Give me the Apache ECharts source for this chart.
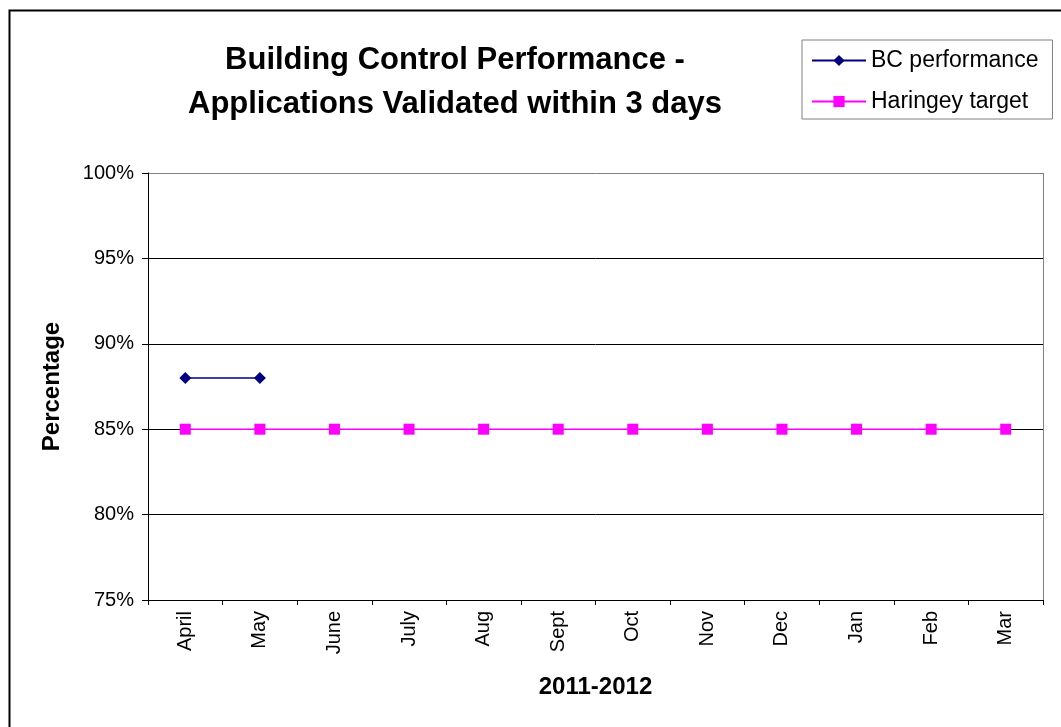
<!DOCTYPE html>
<html>
<head>
<meta charset="utf-8">
<script src="https://cdn.jsdelivr.net/npm/echarts@6/dist/echarts.min.js"></script>
<style>
html,body{margin:0;padding:0;background:#fff;}
#c{width:1061px;height:727px;}
</style>
</head>
<body>
<div id="c"></div>
<script>
const months = ['April','May','June','July','Aug','Sept','Oct','Nov','Dec','Jan','Feb','Mar'];
const bcPerformance = [0.88, 0.88, null, null, null, null, null, null, null, null, null, null];
const haringeyTarget = [0.85, 0.85, 0.85, 0.85, 0.85, 0.85, 0.85, 0.85, 0.85, 0.85, 0.85, 0.85];
const yMin = 0.75, yMax = 1.0, yStep = 0.05;

const chart = echarts.init(document.getElementById('c'), null, {renderer: 'canvas'});
const font = '"Liberation Sans", Arial, sans-serif';
chart.setOption({
  animation: false,
  backgroundColor: '#fff',
  textStyle: {fontFamily: font},
  title: {
    text: 'Building Control Performance -\nApplications Validated within 3 days',
    left: 455, top: 38, textAlign: 'center', padding: 0,
    textStyle: {fontFamily: font, fontSize: 31, fontWeight: 'bold', color: '#000', lineHeight: 44}
  },
  legend: {
    orient: 'vertical',
    left: 802, top: 40,
    padding: [9, 14, 6, 9],
    itemWidth: 54, itemHeight: 14, itemGap: 18,
    borderColor: '#808080', borderWidth: 1,
    textStyle: {fontFamily: font, fontSize: 23, color: '#000', lineHeight: 22},
    data: ['BC performance', 'Haringey target']
  },
  grid: {left: 148, right: 18, top: 173, bottom: 127, containLabel: false},
  xAxis: {
    type: 'category',
    data: months,
    boundaryGap: true,
    name: '2011-2012',
    nameLocation: 'middle',
    nameGap: 75,
    nameTextStyle: {fontFamily: font, fontSize: 24, fontWeight: 'bold', color: '#000'},
    axisLine: {lineStyle: {color: '#000', width: 1}},
    axisTick: {show: true, length: 5, inside: false, alignWithLabel: false, lineStyle: {color: '#000'}},
    axisLabel: {rotate: 90, margin: 11, fontSize: 20, color: '#000', fontFamily: font},
    splitLine: {show: false}
  },
  yAxis: {
    type: 'value',
    min: yMin, max: yMax, interval: yStep,
    name: 'Percentage',
    nameLocation: 'middle',
    nameGap: 84,
    nameRotate: 90,
    nameTextStyle: {fontFamily: font, fontSize: 24, fontWeight: 'bold', color: '#000'},
    axisLine: {show: true, lineStyle: {color: '#000', width: 1}},
    axisTick: {show: true, length: 6, lineStyle: {color: '#000'}},
    axisLabel: {margin: 14, fontSize: 20, color: '#000', fontFamily: font,
      formatter: v => Math.round(v * 100) + '%'},
    splitLine: {show: true, lineStyle: {color: ['#000','#000','#000','#000','#000','#808080'], width: 1}}
  },
  graphic: [
    {type: 'rect', left: 7, top: 8, shape: {x: 0, y: 0, width: 1100, height: 800},
     style: {fill: 'none', stroke: '#000', lineWidth: 2}, silent: true, z: -1},
    {type: 'line', shape: {x1: 1043.5, y1: 173, x2: 1043.5, y2: 600},
     style: {stroke: '#808080', lineWidth: 1}, silent: true}
  ],
  series: [
    {
      name: 'BC performance', type: 'line', data: bcPerformance,
      symbol: 'diamond', symbolSize: 12, connectNulls: false,
      lineStyle: {color: '#000080', width: 1.5},
      itemStyle: {color: '#000080'}, z: 3
    },
    {
      name: 'Haringey target', type: 'line', data: haringeyTarget,
      symbol: 'rect', symbolSize: 11,
      lineStyle: {color: '#FF00FF', width: 1.5},
      itemStyle: {color: '#FF00FF'}, z: 2
    }
  ]
});
</script>
</body>
</html>
